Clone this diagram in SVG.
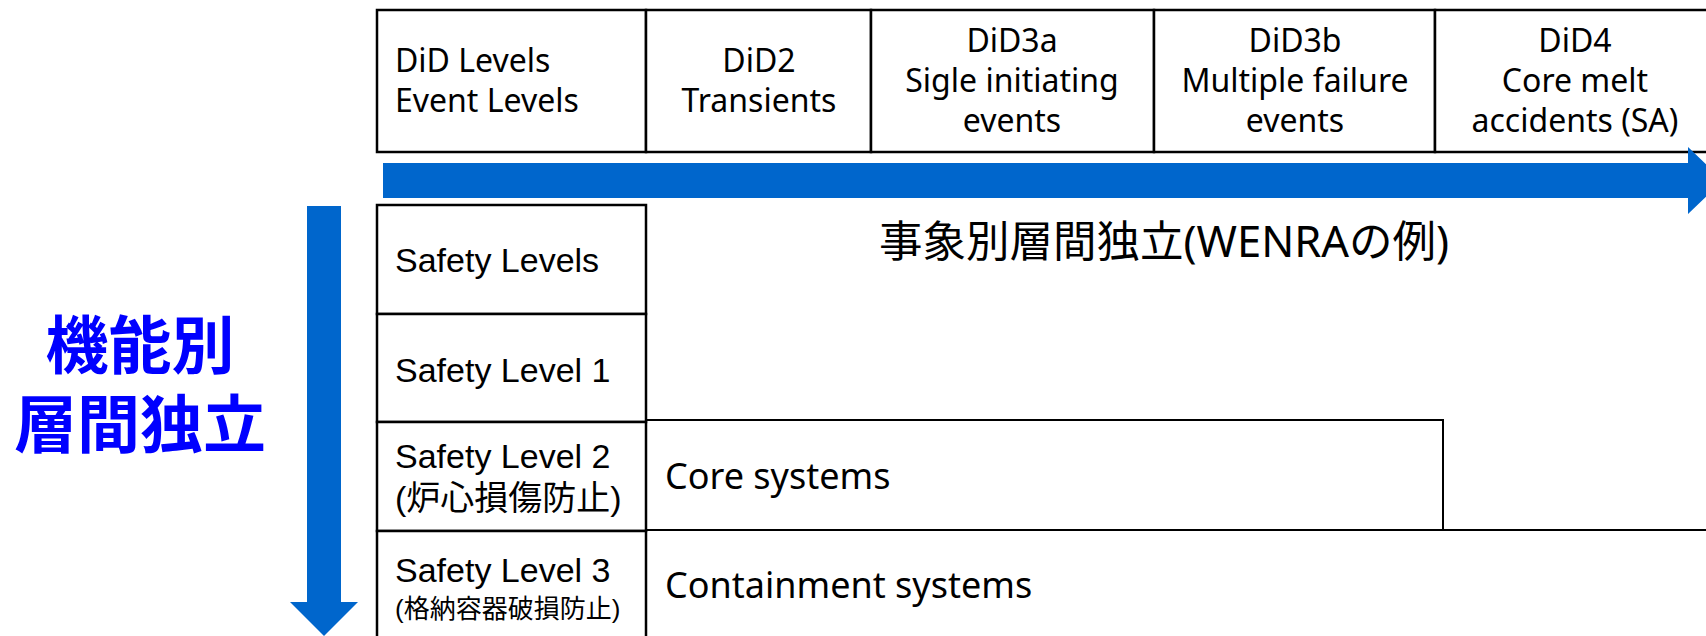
<svg xmlns="http://www.w3.org/2000/svg" width="1706" height="636" viewBox="0 0 1706 636">
  <style>
    .cell { fill: #ffffff; stroke: #000000; stroke-width: 2.5; }
    .box { fill: none; stroke: #000000; stroke-width: 2; }
    .hdr { font-family: "Noto Sans", "Noto Sans CJK JP", sans-serif; font-size: 32px; fill: #000000; }
    .mid { text-anchor: middle; }
    .sl { font-family: "Liberation Sans", Arial, "Noto Sans CJK JP", sans-serif; font-size: 34px; fill: #000000; }
    .sl-small { font-size: 26px; }
    .sys { font-family: "Noto Sans", "Noto Sans CJK JP", sans-serif; font-size: 36px; fill: #000000; }
    .title { font-family: "Noto Sans", "Noto Sans CJK JP", sans-serif; font-size: 43.5px; fill: #000000; }
    .side { font-family: "Noto Sans CJK JP", "Noto Sans", sans-serif; font-size: 63px; font-weight: 700; fill: #0000ff; text-anchor: middle; }
    .arrow { fill: #0066cc; }
  </style>

  <rect x="0" y="0" width="1706" height="636" fill="#ffffff"/>

  <!-- event-level header row -->
  <g id="hdr-did-levels">
    <rect class="cell" x="377" y="10" width="269" height="142"/>
    <text class="hdr" x="395" y="72">DiD Levels</text>
    <text class="hdr" x="395" y="112">Event Levels</text>
  </g>
  <g id="hdr-did2">
    <rect class="cell" x="646" y="10" width="225" height="142"/>
    <text class="hdr mid" x="759" y="72">DiD2</text>
    <text class="hdr mid" x="759" y="112">Transients</text>
  </g>
  <g id="hdr-did3a">
    <rect class="cell" x="871" y="10" width="283" height="142"/>
    <text class="hdr mid" x="1012" y="52">DiD3a</text>
    <text class="hdr mid" x="1012" y="92">Sigle initiating</text>
    <text class="hdr mid" x="1012" y="132">events</text>
  </g>
  <g id="hdr-did3b">
    <rect class="cell" x="1154" y="10" width="281" height="142"/>
    <text class="hdr mid" x="1295" y="52">DiD3b</text>
    <text class="hdr mid" x="1295" y="92">Multiple failure</text>
    <text class="hdr mid" x="1295" y="132">events</text>
  </g>
  <g id="hdr-did4">
    <rect class="cell" x="1435" y="10" width="280" height="142"/>
    <text class="hdr mid" x="1575" y="52">DiD4</text>
    <text class="hdr mid" x="1575" y="92">Core melt</text>
    <text class="hdr mid" x="1575" y="132">accidents (SA)</text>
  </g>

  <!-- safety-level column -->
  <g id="sl-header">
    <rect class="cell" x="377" y="205" width="269" height="109"/>
    <text class="sl" x="395" y="272">Safety Levels</text>
  </g>
  <g id="sl-1">
    <rect class="cell" x="377" y="314" width="269" height="108"/>
    <text class="sl" x="395" y="382">Safety Level 1</text>
  </g>
  <g id="sl-2">
    <rect class="cell" x="377" y="422" width="269" height="109"/>
    <text class="sl" x="395" y="468">Safety Level 2</text>
    <text class="sl" x="395" y="510">(炉心損傷防止)</text>
  </g>
  <g id="sl-3">
    <rect class="cell" x="377" y="531" width="269" height="112"/>
    <text class="sl" x="395" y="582">Safety Level 3</text>
    <text class="sl sl-small" x="395" y="618">(格納容器破損防止)</text>
  </g>

  <!-- system bands -->
  <g id="core-systems">
    <rect class="box" x="646" y="420" width="797" height="110"/>
    <text class="sys" x="665" y="489">Core systems</text>
  </g>
  <g id="containment-systems">
    <rect class="box" x="646" y="530" width="1070" height="113"/>
    <text class="sys" x="665" y="598">Containment systems</text>
  </g>

  <!-- captions -->
  <g id="event-caption">
    <text class="title" x="879" y="257">事象別層間独立(WENRAの例)</text>
  </g>
  <g id="function-caption">
    <text class="side" x="140" y="368">機能別</text>
    <text class="side" x="140" y="447">層間独立</text>
  </g>

  <!-- direction arrows -->
  <g id="connectors">
    <polygon class="arrow" points="383,163 1688,163 1688,147 1723,180.5 1688,214 1688,198 383,198"/>
    <polygon class="arrow" points="307,206 341,206 341,602 358,602 324,636 290,602 307,602"/>
  </g>
</svg>
